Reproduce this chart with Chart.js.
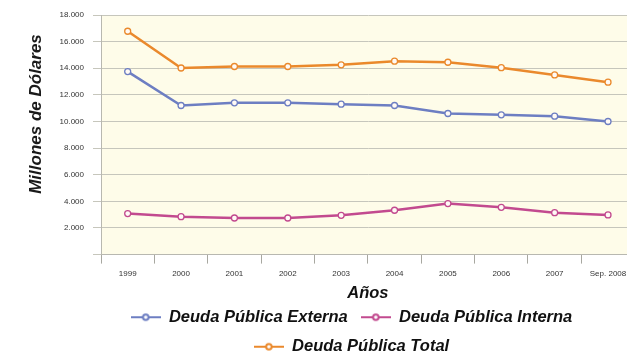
<!DOCTYPE html>
<html>
<head>
<meta charset="utf-8">
<script src="https://cdn.jsdelivr.net/npm/chart.js@4/dist/chart.umd.min.js"></script>
<style>
  html, body { margin: 0; padding: 0; background: #fff; overflow: hidden; }
  #wrap { width: 640px; height: 354px; }
</style>
</head>
<body>
<div id="wrap"><canvas id="chart"></canvas></div>
<script>
const years = ['1999', '2000', '2001', '2002', '2003', '2004', '2005', '2006', '2007', 'Sep. 2008'];
const externa = [13750, 11200, 11400, 11400, 11300, 11200, 10600, 10500, 10400, 10000];
const interna = [3080, 2850, 2750, 2750, 2950, 3330, 3830, 3550, 3150, 2980];
const total = [16780, 14020, 14130, 14130, 14260, 14530, 14450, 14040, 13500, 12950];
const yTicks = [2000, 4000, 6000, 8000, 10000, 12000, 14000, 16000, 18000];

const BLUE = '#6d7ec2';
const PINK = '#c24a8f';
const ORANGE = '#ea892c';

// little line-with-circle marker for the legend
function legendMark(color) {
    const c = document.createElement('canvas');
    c.width = 30; c.height = 10;
    const g = c.getContext('2d');
    g.strokeStyle = color;
    g.lineWidth = 2;
    g.beginPath(); g.moveTo(0, 5); g.lineTo(30, 5); g.stroke();
    g.fillStyle = '#fff';
    g.beginPath(); g.arc(15, 5, 2.8, 0, Math.PI * 2); g.fill(); g.stroke();
    return c;
}

const plotBg = {
    id: 'plotBg',
    beforeDraw(chart) {
        const { ctx, chartArea: a } = chart;
        ctx.save();
        ctx.fillStyle = '#fefce9';
        ctx.fillRect(a.left, a.top, a.right - a.left, a.bottom - a.top);
        ctx.restore();
    }
};

const yTitle = {
    id: 'yTitle',
    afterDraw(chart) {
        const ctx = chart.ctx;
        ctx.save();
        ctx.translate(36, 114);
        ctx.rotate(-Math.PI / 2);
        ctx.font = 'italic bold 17px "Liberation Sans", Arial, sans-serif';
        ctx.fillStyle = '#1a1a1a';
        ctx.textAlign = 'center';
        ctx.textBaseline = 'middle';
        ctx.fillText('Millones de Dólares', 0, 0);
        ctx.restore();
    }
};

// nudge the legend block to where it sits in the original
const legendShift = {
    id: 'legendShift',
    afterLayout(chart) {
        const lg = chart.legend;
        lg.left += 33; lg.right += 33;
        lg.top -= 7; lg.bottom -= 7;
    }
};

const marks = { 'Deuda Pública Externa': legendMark(BLUE), 'Deuda Pública Interna': legendMark(PINK), 'Deuda Pública Total': legendMark(ORANGE) };

function series(label, data, color) {
    return {
        label: label,
        data: data,
        borderColor: color,
        backgroundColor: '#fff',
        borderWidth: 2.5,
        pointRadius: 3,
        pointBorderWidth: 1.3,
        pointBackgroundColor: '#fffaf5',
        pointBorderColor: color,
        tension: 0
    };
}

new Chart(document.getElementById('chart').getContext('2d'), {
    type: 'line',
    data: {
        labels: years,
        datasets: [
            series('Deuda Pública Externa', externa, BLUE),
            series('Deuda Pública Interna', interna, PINK),
            series('Deuda Pública Total', total, ORANGE)
        ]
    },
    plugins: [plotBg, yTitle, legendShift],
    options: {
        responsive: true,
        maintainAspectRatio: false,
        animation: false,
        layout: { padding: { top: 15, right: 3, left: 0, bottom: -18 } },
        plugins: {
            tooltip: { enabled: false },
            legend: {
                position: 'bottom',
                labels: {
                    usePointStyle: true,
                    pointStyleWidth: 30,
                    boxHeight: 10,
                    padding: 13,
                    color: '#111',
                    font: { family: '"Liberation Sans", Arial, sans-serif', size: 16.5, style: 'italic', weight: 'bold' },
                    generateLabels(chart) {
                        const items = Chart.defaults.plugins.legend.labels.generateLabels(chart);
                        items.forEach(it => { it.pointStyle = marks[it.text]; });
                        return items;
                    }
                }
            }
        },
        scales: {
            x: {
                offset: true,
                grid: { offset: true, drawOnChartArea: false, drawTicks: true, tickLength: 9, color: '#a8a8a0' },
                border: { color: '#b8b8b0' },
                ticks: { color: '#333', font: { family: '"Liberation Sans", Arial, sans-serif', size: 8 }, maxRotation: 0, autoSkip: false, padding: 5 },
                title: { display: true, text: 'Años', color: '#111', padding: { top: 0, bottom: 0 },
                    font: { family: '"Liberation Sans", Arial, sans-serif', size: 16.5, style: 'italic', weight: 'bold' } }
            },
            y: {
                min: 0,
                max: 18000,
                afterBuildTicks(s) { s.ticks = [0].concat(yTicks).map(v => ({ value: v })); },
                afterFit(s) { s.width = 101; },
                grid: { color: '#c6c6bc', lineWidth: 1, tickLength: 8, drawTicks: true },
                border: { color: '#b8b8b0' },
                ticks: {
                    color: '#333',
                    padding: 9,
                    font: { family: '"Liberation Sans", Arial, sans-serif', size: 8 },
                    callback: v => v === 0 ? '' : (v / 1000).toFixed(3)
                }
            }
        }
    }
});
</script>
</body>
</html>
